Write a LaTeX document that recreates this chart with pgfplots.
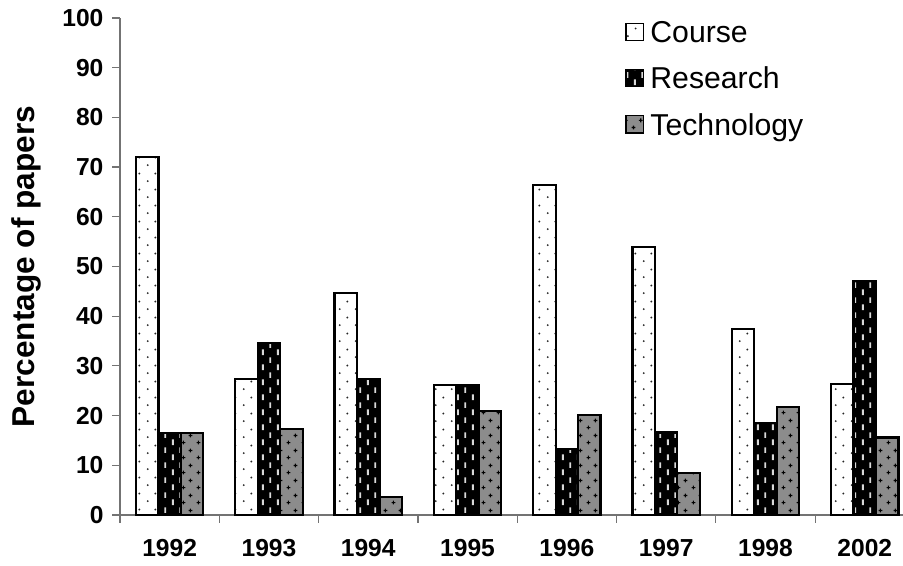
\documentclass[border=0pt]{standalone}
\usepackage{pgfplots}
\pgfplotsset{compat=1.18}
\usepackage{fontspec}
\setmainfont{Liberation Sans}
\usetikzlibrary{patterns}

\pgfdeclarepatternformonly{cdots}{\pgfpointorigin}{\pgfpoint{8pt}{7.75pt}}{\pgfpoint{8pt}{7.75pt}}{%
  \pgfpathcircle{\pgfpoint{2pt}{1.5pt}}{0.55pt}%
  \pgfpathcircle{\pgfpoint{6pt}{5.375pt}}{0.55pt}%
  \pgfusepath{fill}}
\pgfdeclarepatternformonly{rdash}{\pgfpointorigin}{\pgfpoint{7.7pt}{7.5pt}}{\pgfpoint{7.7pt}{7.5pt}}{%
  \pgfpathrectangle{\pgfpoint{1.5pt}{0.5pt}}{\pgfpoint{1pt}{3pt}}%
  \pgfpathrectangle{\pgfpoint{5.35pt}{4.25pt}}{\pgfpoint{1pt}{3pt}}%
  \pgfusepath{fill}}
\pgfdeclarepatternformonly{tcross}{\pgfpointorigin}{\pgfpoint{7.5pt}{7.5pt}}{\pgfpoint{7.5pt}{7.5pt}}{%
  \pgfsetlinewidth{0.6pt}%
  \pgfpathmoveto{\pgfpoint{0.8pt}{1.8pt}}\pgfpathlineto{\pgfpoint{2.8pt}{1.8pt}}%
  \pgfpathmoveto{\pgfpoint{1.8pt}{0.8pt}}\pgfpathlineto{\pgfpoint{1.8pt}{2.8pt}}%
  \pgfpathmoveto{\pgfpoint{4.55pt}{5.55pt}}\pgfpathlineto{\pgfpoint{6.55pt}{5.55pt}}%
  \pgfpathmoveto{\pgfpoint{5.55pt}{4.55pt}}\pgfpathlineto{\pgfpoint{5.55pt}{6.55pt}}%
  \pgfusepath{stroke}}

\pgfplotstableread{
x course research tech
0 72.1 16.5 16.5
1 27.4 34.6 17.3
2 44.7 27.4 3.6
3 26.2 26.2 20.9
4 66.4 13.3 20.1
5 54.0 16.6 8.4
6 37.4 18.5 21.7
7 26.3 47.1 15.6
}\datatable

\begin{document}
\begin{tikzpicture}
\begin{axis}[
  name=ax,
  at={(0,0)}, anchor=south west,
  scale only axis,
  width=391.5pt, height=248.5pt,
  xmin=-0.5, xmax=7.385,
  ymin=0, ymax=100,
  axis lines=left,
  axis line style={-, draw=gray!90!black, line width=0.6pt},
  ybar, bar width=0.226,
  ytick={0,10,...,100},
  xtick={0,...,7},
  xticklabels={1992,1993,1994,1995,1996,1997,1998,2002},
  minor xtick={-0.5,0.5,...,6.5},
  major x tick style={draw=none},
  tick align=outside,
  major tick length=3.75pt, minor tick length=3.75pt,
  tick style={draw=gray!90!black, line width=0.6pt},
  /pgf/number format/assume math mode=true,
  ticklabel style={font=\bfseries\fontsize{12.3}{12.3}\selectfont},
  xticklabel style={yshift=-5pt},
  yticklabel style={xshift=-1pt},
  every axis y label/.style={at={(axis description cs:-0.1098,0.5)}, rotate=90, anchor=base},
  ylabel={\bfseries\fontsize{15.8}{15.8}\selectfont Percentage of papers},
  legend style={at={(axis description cs:0.645,1.002)}, anchor=north west, draw=none, fill=none,
    font=\fontsize{15.1}{15.1}\selectfont, row sep=6.75pt, inner sep=0pt,
    nodes={inner xsep=3.3pt}},
  legend cell align=left,
  legend image code/.code={\draw[#1, line width=0.6pt] (0pt,-3.6pt) rectangle (8.6pt,5pt);},
  clip=false,
]
\addplot[bar shift=-0.226, fill=white, draw=black, line width=1.1pt,
  postaction={pattern=cdots, pattern color=black!85}] table[x=x,y=course] {\datatable};
\addplot[bar shift=0, fill=black, draw=black, line width=1.1pt,
  postaction={pattern=rdash, pattern color=white!85!black}] table[x=x,y=research] {\datatable};
\addplot[bar shift=0.226, fill=black!45, draw=black, line width=1.1pt,
  postaction={pattern=tcross, pattern color=black}] table[x=x,y=tech] {\datatable};
\legend{Course,Research,Technology}
\end{axis}
\pgfresetboundingbox
\path (-60pt,-25.5pt) rectangle (391.5pt,257.5pt);
\end{tikzpicture}
\end{document}
